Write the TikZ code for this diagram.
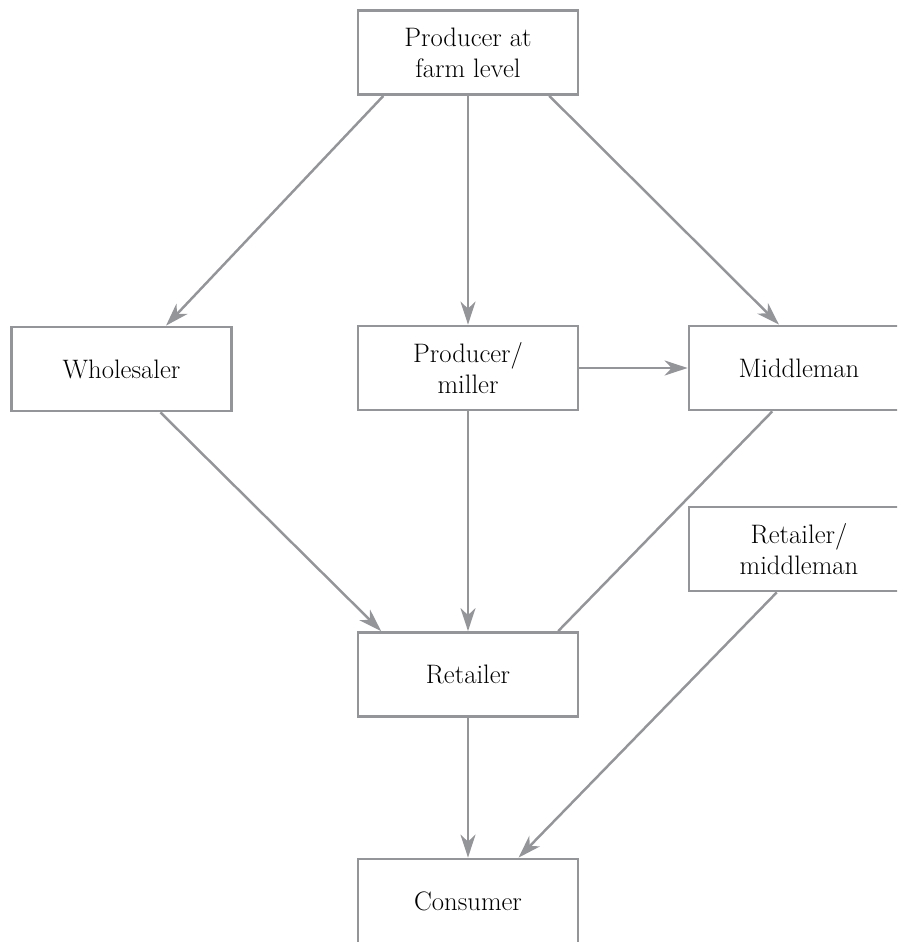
\documentclass[tikz,border=0pt]{standalone}
\usepackage{fontspec}
\usetikzlibrary{arrows.meta,calc}
\definecolor{flowgray}{RGB}{148,149,153}
\begin{document}
\begin{tikzpicture}[x=0.02cm,y=-0.02cm,
  box/.style={draw=flowgray,line width=1.6pt,minimum width=4.4cm,minimum height=1.68cm,
    align=center,inner sep=0pt,font=\fontsize{15.2}{17.5}\selectfont},
  flow/.style={draw=flowgray,line width=1.4pt,-{Stealth[length=4.6mm,width=3mm,inset=1.4mm]}},
  link/.style={draw=flowgray,line width=1.4pt}]

\clip (0,0) rectangle (897,942);

% boxes
\node[box] (farm) at (468,52.5) {Producer at\\farm level};
\node[box] (whole) at (121.5,369) {Wholesaler};
\node[box] (miller) at (468,368) {Producer/\\miller};
\node[box] (middle) at (799,368) {Middleman};
\node[box] (retmid) at (799,549) {Retailer/\\middleman};
\node[box] (retail) at (468,674.5) {Retailer};
\node[box] (consumer) at (468,901) {Consumer};

% first level
\draw[flow] ($(farm.south west)!0.12!(farm.south east)$) -- ($(whole.north west)!0.70!(whole.north east)$);
\draw[flow] (farm.south) -- (miller.north);
\draw[flow] ($(farm.south west)!0.865!(farm.south east)$) -- ($(middle.north west)!0.41!(middle.north east)$);
\draw[flow] (miller.east) -- (middle.west);

% to the retailer
\draw[flow] ($(whole.south west)!0.675!(whole.south east)$) -- ($(retail.north west)!0.11!(retail.north east)$);
\draw[flow] (miller.south) -- (retail.north);
\draw[link] ($(middle.south west)!0.38!(middle.south east)$) -- ($(retail.north west)!0.905!(retail.north east)$);

% to the consumer
\draw[flow] (retail.south) -- (consumer.north);
\draw[flow] ($(retmid.south west)!0.40!(retmid.south east)$) -- ($(consumer.north west)!0.727!(consumer.north east)$);

\end{tikzpicture}
\end{document}
